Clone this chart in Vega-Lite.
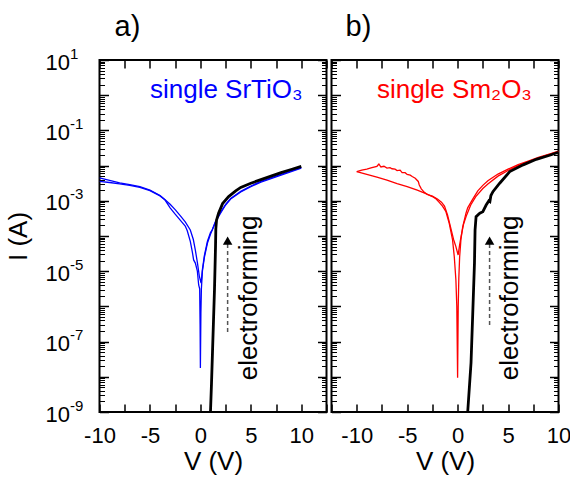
{
  "$schema": "https://vega.github.io/schema/vega-lite/v6.json",
  "background": "white",
  "padding": {"left": 3.5, "top": 12, "right": 4, "bottom": 2},
  "spacing": 1,
  "config": {
    "font": "Liberation Sans",
    "view": {"stroke": "black", "strokeWidth": 2},
    "axis": {
      "grid": false,
      "domain": false,
      "labelFont": "Liberation Sans",
      "labelFontSize": 22,
      "labelColor": "black",
      "titleFont": "Liberation Sans",
      "titleFontSize": 26,
      "titleFontWeight": "normal",
      "titleColor": "black",
      "tickColor": "black",
      "tickWidth": 1.5,
      "tickOpacity": 1,
      "labelOverlap": false,
      "labelFlush": false,
      "labelBound": false,
      "minExtent": 0,
      "zindex": 1
    },
    "title": {"font": "Liberation Sans", "fontSize": 29, "fontWeight": "normal", "color": "black", "anchor": "start", "frame": "group"}
  },
  "datasets": {
    "iv": [
      {"p":"a","s":"A","i":0,"V":-10,"I":3.55e-3},
      {"p":"a","s":"A","i":1,"V":-9,"I":3.31e-3},
      {"p":"a","s":"A","i":2,"V":-8,"I":3.02e-3},
      {"p":"a","s":"A","i":3,"V":-7,"I":2.75e-3},
      {"p":"a","s":"A","i":4,"V":-6,"I":2.40e-3},
      {"p":"a","s":"A","i":5,"V":-5,"I":1.95e-3},
      {"p":"a","s":"A","i":6,"V":-4,"I":1.38e-3},
      {"p":"a","s":"A","i":7,"V":-3.5,"I":1.05e-3},
      {"p":"a","s":"A","i":8,"V":-3,"I":6.31e-4},
      {"p":"a","s":"A","i":9,"V":-2.5,"I":4.17e-4},
      {"p":"a","s":"A","i":10,"V":-2,"I":2.82e-4},
      {"p":"a","s":"A","i":11,"V":-1.5,"I":1.91e-4},
      {"p":"a","s":"A","i":12,"V":-1.3,"I":1.41e-4},
      {"p":"a","s":"A","i":13,"V":-1,"I":7.08e-5},
      {"p":"a","s":"A","i":14,"V":-0.8,"I":3.55e-5},
      {"p":"a","s":"A","i":15,"V":-0.67,"I":2.09e-5},
      {"p":"a","s":"A","i":16,"V":-0.5,"I":1.70e-5},
      {"p":"a","s":"A","i":17,"V":-0.3,"I":1.0e-5},
      {"p":"a","s":"A","i":18,"V":-0.17,"I":4.07e-6},
      {"p":"a","s":"A","i":19,"V":-0.07,"I":3.16e-6},
      {"p":"a","s":"A","i":20,"V":-0.03,"I":3.16e-7},
      {"p":"a","s":"A","i":21,"V":0,"I":1.78e-8},
      {"p":"a","s":"A","i":22,"V":0.05,"I":6.31e-7},
      {"p":"a","s":"A","i":23,"V":0.1,"I":3.16e-6},
      {"p":"a","s":"A","i":24,"V":0.2,"I":1.0e-5},
      {"p":"a","s":"A","i":25,"V":0.4,"I":2.51e-5},
      {"p":"a","s":"A","i":26,"V":0.7,"I":6.31e-5},
      {"p":"a","s":"A","i":27,"V":1.0,"I":1.12e-4},
      {"p":"a","s":"A","i":28,"V":1.5,"I":2.51e-4},
      {"p":"a","s":"A","i":29,"V":2,"I":4.47e-4},
      {"p":"a","s":"A","i":30,"V":2.5,"I":7.59e-4},
      {"p":"a","s":"A","i":31,"V":3,"I":1.12e-3},
      {"p":"a","s":"A","i":32,"V":4,"I":1.78e-3},
      {"p":"a","s":"A","i":33,"V":5,"I":2.51e-3},
      {"p":"a","s":"A","i":34,"V":6,"I":3.39e-3},
      {"p":"a","s":"A","i":35,"V":7,"I":4.27e-3},
      {"p":"a","s":"A","i":36,"V":8,"I":5.37e-3},
      {"p":"a","s":"A","i":37,"V":9,"I":6.76e-3},
      {"p":"a","s":"A","i":38,"V":10,"I":8.51e-3},

      {"p":"a","s":"B","i":0,"V":-10,"I":4.47e-3},
      {"p":"a","s":"B","i":1,"V":-9,"I":3.80e-3},
      {"p":"a","s":"B","i":2,"V":-8,"I":3.24e-3},
      {"p":"a","s":"B","i":3,"V":-7,"I":2.88e-3},
      {"p":"a","s":"B","i":4,"V":-6,"I":2.51e-3},
      {"p":"a","s":"B","i":5,"V":-5,"I":2.0e-3},
      {"p":"a","s":"B","i":6,"V":-4,"I":1.41e-3},
      {"p":"a","s":"B","i":7,"V":-3.5,"I":1.07e-3},
      {"p":"a","s":"B","i":8,"V":-3,"I":7.94e-4},
      {"p":"a","s":"B","i":9,"V":-2.5,"I":5.62e-4},
      {"p":"a","s":"B","i":10,"V":-2,"I":3.80e-4},
      {"p":"a","s":"B","i":11,"V":-1.5,"I":2.51e-4},
      {"p":"a","s":"B","i":12,"V":-1,"I":1.48e-4},
      {"p":"a","s":"B","i":13,"V":-0.7,"I":7.94e-5},
      {"p":"a","s":"B","i":14,"V":-0.5,"I":3.98e-5},
      {"p":"a","s":"B","i":15,"V":-0.3,"I":1.78e-5},
      {"p":"a","s":"B","i":16,"V":-0.1,"I":7.08e-6},
      {"p":"a","s":"B","i":17,"V":0.07,"I":4.57e-6},
      {"p":"a","s":"B","i":18,"V":0.2,"I":1.12e-5},
      {"p":"a","s":"B","i":19,"V":0.4,"I":2.82e-5},
      {"p":"a","s":"B","i":20,"V":0.7,"I":7.08e-5},
      {"p":"a","s":"B","i":21,"V":1.0,"I":1.26e-4},
      {"p":"a","s":"B","i":22,"V":1.17,"I":1.48e-4},
      {"p":"a","s":"B","i":23,"V":1.5,"I":2.63e-4},
      {"p":"a","s":"B","i":24,"V":2,"I":4.79e-4},
      {"p":"a","s":"B","i":25,"V":2.5,"I":7.94e-4},
      {"p":"a","s":"B","i":26,"V":3,"I":1.17e-3},
      {"p":"a","s":"B","i":27,"V":4,"I":1.86e-3},
      {"p":"a","s":"B","i":28,"V":5,"I":2.63e-3},
      {"p":"a","s":"B","i":29,"V":6,"I":3.55e-3},
      {"p":"a","s":"B","i":30,"V":7,"I":4.47e-3},
      {"p":"a","s":"B","i":31,"V":8,"I":5.62e-3},
      {"p":"a","s":"B","i":32,"V":9,"I":7.08e-3},
      {"p":"a","s":"B","i":33,"V":10,"I":8.91e-3},

      {"p":"a","s":"F","i":0,"V":1.0,"I":1e-9},
      {"p":"a","s":"F","i":1,"V":1.1,"I":6.31e-9},
      {"p":"a","s":"F","i":2,"V":1.2,"I":5.01e-8},
      {"p":"a","s":"F","i":3,"V":1.3,"I":3.98e-7},
      {"p":"a","s":"F","i":4,"V":1.4,"I":3.16e-6},
      {"p":"a","s":"F","i":5,"V":1.45,"I":1.26e-5},
      {"p":"a","s":"F","i":6,"V":1.5,"I":5.01e-5},
      {"p":"a","s":"F","i":7,"V":1.53,"I":1.58e-4},
      {"p":"a","s":"F","i":8,"V":1.6,"I":2.82e-4},
      {"p":"a","s":"F","i":9,"V":1.8,"I":4.47e-4},
      {"p":"a","s":"F","i":10,"V":2.2,"I":8.32e-4},
      {"p":"a","s":"F","i":11,"V":2.8,"I":1.32e-3},
      {"p":"a","s":"F","i":12,"V":3.5,"I":1.91e-3},
      {"p":"a","s":"F","i":13,"V":4,"I":2.40e-3},
      {"p":"a","s":"F","i":14,"V":5,"I":3.16e-3},
      {"p":"a","s":"F","i":15,"V":6,"I":3.98e-3},
      {"p":"a","s":"F","i":16,"V":7,"I":5.01e-3},
      {"p":"a","s":"F","i":17,"V":8,"I":6.31e-3},
      {"p":"a","s":"F","i":18,"V":9,"I":7.76e-3},
      {"p":"a","s":"F","i":19,"V":10,"I":9.55e-3},

      {"p":"b","s":"A","i":0,"V":-10,"I":6.76e-3},
      {"p":"b","s":"A","i":1,"V":-9,"I":5.62e-3},
      {"p":"b","s":"A","i":2,"V":-8,"I":4.68e-3},
      {"p":"b","s":"A","i":3,"V":-7,"I":3.89e-3},
      {"p":"b","s":"A","i":4,"V":-6,"I":3.09e-3},
      {"p":"b","s":"A","i":5,"V":-5,"I":2.51e-3},
      {"p":"b","s":"A","i":6,"V":-4,"I":2.0e-3},
      {"p":"b","s":"A","i":7,"V":-3.2,"I":1.62e-3},
      {"p":"b","s":"A","i":8,"V":-2.5,"I":1.32e-3},
      {"p":"b","s":"A","i":9,"V":-2.2,"I":1.17e-3},
      {"p":"b","s":"A","i":10,"V":-1.8,"I":8.91e-4},
      {"p":"b","s":"A","i":11,"V":-1.5,"I":7.08e-4},
      {"p":"b","s":"A","i":12,"V":-1.17,"I":5.01e-4},
      {"p":"b","s":"A","i":13,"V":-0.83,"I":2.29e-4},
      {"p":"b","s":"A","i":14,"V":-0.5,"I":7.76e-5},
      {"p":"b","s":"A","i":15,"V":-0.33,"I":2.57e-5},
      {"p":"b","s":"A","i":16,"V":-0.17,"I":5.62e-6},
      {"p":"b","s":"A","i":17,"V":-0.08,"I":1.0e-6},
      {"p":"b","s":"A","i":18,"V":0,"I":9.33e-9},
      {"p":"b","s":"A","i":19,"V":0.06,"I":1.0e-6},
      {"p":"b","s":"A","i":20,"V":0.12,"I":6.31e-6},
      {"p":"b","s":"A","i":21,"V":0.2,"I":2.51e-5},
      {"p":"b","s":"A","i":22,"V":0.33,"I":7.94e-5},
      {"p":"b","s":"A","i":23,"V":0.5,"I":1.78e-4},
      {"p":"b","s":"A","i":24,"V":0.83,"I":4.47e-4},
      {"p":"b","s":"A","i":25,"V":1.0,"I":6.31e-4},
      {"p":"b","s":"A","i":26,"V":1.5,"I":1.12e-3},
      {"p":"b","s":"A","i":27,"V":2.0,"I":1.91e-3},
      {"p":"b","s":"A","i":28,"V":2.5,"I":2.75e-3},
      {"p":"b","s":"A","i":29,"V":3,"I":3.72e-3},
      {"p":"b","s":"A","i":30,"V":4,"I":5.75e-3},
      {"p":"b","s":"A","i":31,"V":5,"I":7.94e-3},
      {"p":"b","s":"A","i":32,"V":6,"I":1.07e-2},
      {"p":"b","s":"A","i":33,"V":7,"I":1.35e-2},
      {"p":"b","s":"A","i":34,"V":8,"I":1.70e-2},
      {"p":"b","s":"A","i":35,"V":9,"I":2.09e-2},
      {"p":"b","s":"A","i":36,"V":10,"I":2.57e-2},

      {"p":"b","s":"B","i":0,"V":-10,"I":6.76e-3},
      {"p":"b","s":"B","i":1,"V":-9.5,"I":7.41e-3},
      {"p":"b","s":"B","i":2,"V":-9,"I":7.94e-3},
      {"p":"b","s":"B","i":3,"V":-8.5,"I":8.71e-3},
      {"p":"b","s":"B","i":4,"V":-8,"I":9.55e-3},
      {"p":"b","s":"B","i":5,"V":-7.8,"I":1.10e-2},
      {"p":"b","s":"B","i":6,"V":-7.6,"I":9.12e-3},
      {"p":"b","s":"B","i":7,"V":-7.3,"I":9.55e-3},
      {"p":"b","s":"B","i":8,"V":-7.0,"I":8.51e-3},
      {"p":"b","s":"B","i":9,"V":-6.7,"I":8.71e-3},
      {"p":"b","s":"B","i":10,"V":-6.5,"I":8.13e-3},
      {"p":"b","s":"B","i":11,"V":-6.2,"I":7.94e-3},
      {"p":"b","s":"B","i":12,"V":-6.0,"I":7.24e-3},
      {"p":"b","s":"B","i":13,"V":-5.7,"I":7.41e-3},
      {"p":"b","s":"B","i":14,"V":-5.5,"I":6.31e-3},
      {"p":"b","s":"B","i":15,"V":-5.2,"I":6.31e-3},
      {"p":"b","s":"B","i":16,"V":-5,"I":5.62e-3},
      {"p":"b","s":"B","i":17,"V":-4.7,"I":5.37e-3},
      {"p":"b","s":"B","i":18,"V":-4.5,"I":4.90e-3},
      {"p":"b","s":"B","i":19,"V":-4.2,"I":4.37e-3},
      {"p":"b","s":"B","i":20,"V":-3.9,"I":3.55e-3},
      {"p":"b","s":"B","i":21,"V":-3.8,"I":2.82e-3},
      {"p":"b","s":"B","i":22,"V":-3.6,"I":2.19e-3},
      {"p":"b","s":"B","i":23,"V":-3.3,"I":1.74e-3},
      {"p":"b","s":"B","i":24,"V":-3.0,"I":1.51e-3},
      {"p":"b","s":"B","i":25,"V":-2.5,"I":1.35e-3},
      {"p":"b","s":"B","i":26,"V":-2.0,"I":1.12e-3},
      {"p":"b","s":"B","i":27,"V":-1.6,"I":9.12e-4},
      {"p":"b","s":"B","i":28,"V":-1.3,"I":7.08e-4},
      {"p":"b","s":"B","i":29,"V":-1.0,"I":3.98e-4},
      {"p":"b","s":"B","i":30,"V":-0.7,"I":1.78e-4},
      {"p":"b","s":"B","i":31,"V":-0.4,"I":7.94e-5},
      {"p":"b","s":"B","i":32,"V":-0.17,"I":5.01e-5},
      {"p":"b","s":"B","i":33,"V":0.05,"I":2.88e-5},
      {"p":"b","s":"B","i":34,"V":0.2,"I":5.62e-5},
      {"p":"b","s":"B","i":35,"V":0.35,"I":1.0e-4},
      {"p":"b","s":"B","i":36,"V":0.6,"I":2.24e-4},
      {"p":"b","s":"B","i":37,"V":0.9,"I":3.98e-4},
      {"p":"b","s":"B","i":38,"V":1.3,"I":7.59e-4},
      {"p":"b","s":"B","i":39,"V":1.8,"I":1.32e-3},
      {"p":"b","s":"B","i":40,"V":2.5,"I":2.24e-3},
      {"p":"b","s":"B","i":41,"V":3,"I":3.02e-3},
      {"p":"b","s":"B","i":42,"V":4,"I":5.01e-3},
      {"p":"b","s":"B","i":43,"V":5,"I":7.24e-3},
      {"p":"b","s":"B","i":44,"V":6,"I":1.0e-2},
      {"p":"b","s":"B","i":45,"V":7,"I":1.29e-2},
      {"p":"b","s":"B","i":46,"V":8,"I":1.62e-2},
      {"p":"b","s":"B","i":47,"V":9,"I":2.04e-2},
      {"p":"b","s":"B","i":48,"V":10,"I":2.51e-2},

      {"p":"b","s":"F","i":0,"V":1.0,"I":1e-9},
      {"p":"b","s":"F","i":1,"V":1.33,"I":2.51e-8},
      {"p":"b","s":"F","i":2,"V":1.5,"I":6.31e-7},
      {"p":"b","s":"F","i":3,"V":1.67,"I":1.66e-5},
      {"p":"b","s":"F","i":4,"V":1.73,"I":1.48e-4},
      {"p":"b","s":"F","i":5,"V":1.83,"I":3.55e-4},
      {"p":"b","s":"F","i":6,"V":2.2,"I":4.47e-4},
      {"p":"b","s":"F","i":7,"V":2.5,"I":4.90e-4},
      {"p":"b","s":"F","i":8,"V":2.83,"I":7.59e-4},
      {"p":"b","s":"F","i":9,"V":3.1,"I":1.0e-3},
      {"p":"b","s":"F","i":10,"V":3.2,"I":9.55e-4},
      {"p":"b","s":"F","i":11,"V":3.3,"I":1.41e-3},
      {"p":"b","s":"F","i":12,"V":3.5,"I":1.82e-3},
      {"p":"b","s":"F","i":13,"V":4.17,"I":3.16e-3},
      {"p":"b","s":"F","i":14,"V":5.17,"I":6.76e-3},
      {"p":"b","s":"F","i":15,"V":6.5,"I":1.05e-2},
      {"p":"b","s":"F","i":16,"V":7.8,"I":1.51e-2},
      {"p":"b","s":"F","i":17,"V":9.2,"I":2.0e-2},
      {"p":"b","s":"F","i":18,"V":10,"I":2.40e-2}
    ]
  },
  "data": {"name": "iv"},
  "hconcat": [
    {
      "width": 227,
      "height": 352,
      "title": {"text": "a)", "dx": 15, "offset": 4},
      "layer": [
        {
          "transform": [{"filter": "datum.p == 'a' && datum.s != 'F'"}],
          "mark": {"type": "line", "color": "#0000ff", "strokeWidth": 1.3, "clip": true},
          "encoding": {
            "x": {
              "field": "V", "type": "quantitative",
              "scale": {"domain": [-10, 12.5], "nice": false, "zero": false},
              "axis": {"orient": "bottom", "values": [-10, -7.5, -5, -2.5, 0, 2.5, 5, 7.5, 10, 12.5], "tickSize": -8, "labelPadding": 21, "labelExpr": "datum.value % 5 == 0 ? '' + datum.value : ''", "title": "V (V)", "titlePadding": 2}
            },
            "y": {
              "field": "I", "type": "quantitative",
              "scale": {"type": "log", "domain": [1e-9, 10], "nice": false},
              "axis": {
                "orient": "left",
                "values": [1e-9, 1e-8, 1e-7, 1e-6, 1e-5, 1e-4, 1e-3, 1e-2, 0.1, 1, 10],
                "tickSize": -9,
                "labelPadding": 39,
                "labelOffset": 2,
                "labelExpr": "round(log(datum.value)/LN10) % 2 != 0 ? '10' : ''",
                "title": "I (A)",
                "titlePadding": 14
              }
            },
            "detail": {"field": "s"},
            "order": {"field": "i"}
          }
        },
        {
          "transform": [{"filter": "datum.p == 'a' && datum.s == 'F'"}],
          "mark": {"type": "line", "color": "black", "strokeWidth": 2.8, "clip": true},
          "encoding": {
            "x": {
              "field": "V", "type": "quantitative",
              "axis": {"orient": "top", "values": [-10, -7.5, -5, -2.5, 0, 2.5, 5, 7.5, 10, 12.5], "tickSize": -8, "labels": false, "title": null, "maxExtent": 0}
            },
            "y": {
              "field": "I", "type": "quantitative",
              "axis": {"orient": "right", "values": [1e-9, 1e-8, 1e-7, 1e-6, 1e-5, 1e-4, 1e-3, 1e-2, 0.1, 1, 10], "tickSize": -9, "labels": false, "title": null, "maxExtent": 0}
            },
            "order": {"field": "i"}
          }
        },
        {
          "data": {"values": [{}]},
          "mark": {"type": "rule", "color": "#555555", "strokeWidth": 1.5, "strokeDash": [4, 3]},
          "encoding": {
            "x": {"datum": 2.7, "type": "quantitative", "axis": null},
            "y": {
              "datum": 1.86e-7, "type": "quantitative",
              "axis": {
                "orient": "left",
                "values": [2e-9,3e-9,4e-9,5e-9,6e-9,7e-9,8e-9,9e-9,2e-8,3e-8,4e-8,5e-8,6e-8,7e-8,8e-8,9e-8,2e-7,3e-7,4e-7,5e-7,6e-7,7e-7,8e-7,9e-7,2e-6,3e-6,4e-6,5e-6,6e-6,7e-6,8e-6,9e-6,2e-5,3e-5,4e-5,5e-5,6e-5,7e-5,8e-5,9e-5,2e-4,3e-4,4e-4,5e-4,6e-4,7e-4,8e-4,9e-4,2e-3,3e-3,4e-3,5e-3,6e-3,7e-3,8e-3,9e-3,2e-2,3e-2,4e-2,5e-2,6e-2,7e-2,8e-2,9e-2,0.2,0.3,0.4,0.5,0.6,0.7,0.8,0.9,2,3,4,5,6,7,8,9],
                "tickSize": -5, "tickWidth": 1, "labels": false, "title": null, "maxExtent": 0
              }
            },
            "y2": {"datum": 6.0e-5}
          }
        },
        {
          "data": {"values": [{}]},
          "mark": {"type": "point", "shape": "triangle-up", "filled": true, "fill": "black", "opacity": 1, "size": 90},
          "encoding": {
            "x": {"datum": 2.7, "type": "quantitative", "axis": null},
            "y": {
              "datum": 7.4e-5, "type": "quantitative",
              "axis": {
                "orient": "right",
                "values": [2e-9,3e-9,4e-9,5e-9,6e-9,7e-9,8e-9,9e-9,2e-8,3e-8,4e-8,5e-8,6e-8,7e-8,8e-8,9e-8,2e-7,3e-7,4e-7,5e-7,6e-7,7e-7,8e-7,9e-7,2e-6,3e-6,4e-6,5e-6,6e-6,7e-6,8e-6,9e-6,2e-5,3e-5,4e-5,5e-5,6e-5,7e-5,8e-5,9e-5,2e-4,3e-4,4e-4,5e-4,6e-4,7e-4,8e-4,9e-4,2e-3,3e-3,4e-3,5e-3,6e-3,7e-3,8e-3,9e-3,2e-2,3e-2,4e-2,5e-2,6e-2,7e-2,8e-2,9e-2,0.2,0.3,0.4,0.5,0.6,0.7,0.8,0.9,2,3,4,5,6,7,8,9],
                "tickSize": -5, "tickWidth": 1, "labels": false, "title": null, "maxExtent": 0
              }
            }
          }
        },
        {
          "data": {"values": [{}]},
          "mark": {"type": "text", "angle": 270, "align": "center", "baseline": "middle", "fontSize": 26, "font": "Liberation Sans", "fill": "black"},
          "encoding": {
            "x": {"datum": 4.85, "type": "quantitative", "axis": null},
            "y": {
              "datum": 1.74e-6, "type": "quantitative",
              "axis": {
                "orient": "left",
                "values": [10, 0.1, 1e-3, 1e-5, 1e-7, 1e-9],
                "ticks": false,
                "labelAlign": "left",
                "labelPadding": 30,
                "labelOffset": -7,
                "labelFontSize": 15,
                "labelExpr": "'' + round(log(datum.value)/LN10)",
                "title": null
              }
            },
            "text": {"value": "electroforming"}
          }
        },
        {
          "data": {"values": [{}]},
          "mark": {"type": "text", "align": "left", "baseline": "alphabetic", "fontSize": 26, "font": "Liberation Sans", "fill": "#0000ff"},
          "encoding": {
            "x": {"datum": -5, "type": "quantitative", "axis": null},
            "y": {"datum": 0.83, "type": "quantitative", "axis": null},
            "text": {"value": "single SrTiO₃"}
          }
        }
      ],
      "resolve": {"axis": {"x": "independent", "y": "independent"}}
    },
    {
      "width": 227,
      "height": 352,
      "title": {"text": "b)", "dx": 14, "offset": 17},
      "layer": [
        {
          "transform": [{"filter": "datum.p == 'b' && datum.s != 'F'"}],
          "mark": {"type": "line", "color": "#ff0000", "strokeWidth": 1.3, "clip": true},
          "encoding": {
            "x": {
              "field": "V", "type": "quantitative",
              "scale": {"domain": [-12.5, 10], "nice": false, "zero": false},
              "axis": {"orient": "bottom", "values": [-12.5, -10, -7.5, -5, -2.5, 0, 2.5, 5, 7.5, 10], "tickSize": -8, "labelPadding": 21, "labelExpr": "datum.value % 5 == 0 ? '' + datum.value : ''", "title": "V (V)", "titlePadding": 2}
            },
            "y": {
              "field": "I", "type": "quantitative",
              "scale": {"type": "log", "domain": [1e-9, 10], "nice": false},
              "axis": {"orient": "left", "values": [1e-9, 1e-8, 1e-7, 1e-6, 1e-5, 1e-4, 1e-3, 1e-2, 0.1, 1, 10], "tickSize": -9, "labels": false, "title": null, "maxExtent": 0}
            },
            "detail": {"field": "s"},
            "order": {"field": "i"}
          }
        },
        {
          "transform": [{"filter": "datum.p == 'b' && datum.s == 'F'"}],
          "mark": {"type": "line", "color": "black", "strokeWidth": 2.8, "clip": true},
          "encoding": {
            "x": {
              "field": "V", "type": "quantitative",
              "axis": {"orient": "top", "values": [-12.5, -10, -7.5, -5, -2.5, 0, 2.5, 5, 7.5, 10], "tickSize": -8, "labels": false, "title": null, "maxExtent": 0}
            },
            "y": {
              "field": "I", "type": "quantitative",
              "axis": {"orient": "right", "values": [1e-9, 1e-8, 1e-7, 1e-6, 1e-5, 1e-4, 1e-3, 1e-2, 0.1, 1, 10], "tickSize": -9, "labels": false, "title": null, "maxExtent": 0}
            },
            "order": {"field": "i"}
          }
        },
        {
          "data": {"values": [{}]},
          "mark": {"type": "rule", "color": "#555555", "strokeWidth": 1.5, "strokeDash": [4, 3]},
          "encoding": {
            "x": {"datum": 3.17, "type": "quantitative", "axis": null},
            "y": {
              "datum": 2.95e-7, "type": "quantitative",
              "axis": {
                "orient": "left",
                "values": [2e-9,3e-9,4e-9,5e-9,6e-9,7e-9,8e-9,9e-9,2e-8,3e-8,4e-8,5e-8,6e-8,7e-8,8e-8,9e-8,2e-7,3e-7,4e-7,5e-7,6e-7,7e-7,8e-7,9e-7,2e-6,3e-6,4e-6,5e-6,6e-6,7e-6,8e-6,9e-6,2e-5,3e-5,4e-5,5e-5,6e-5,7e-5,8e-5,9e-5,2e-4,3e-4,4e-4,5e-4,6e-4,7e-4,8e-4,9e-4,2e-3,3e-3,4e-3,5e-3,6e-3,7e-3,8e-3,9e-3,2e-2,3e-2,4e-2,5e-2,6e-2,7e-2,8e-2,9e-2,0.2,0.3,0.4,0.5,0.6,0.7,0.8,0.9,2,3,4,5,6,7,8,9],
                "tickSize": -5, "tickWidth": 1, "labels": false, "title": null, "maxExtent": 0
              }
            },
            "y2": {"datum": 6.0e-5}
          }
        },
        {
          "data": {"values": [{}]},
          "mark": {"type": "point", "shape": "triangle-up", "filled": true, "fill": "black", "opacity": 1, "size": 90},
          "encoding": {
            "x": {"datum": 3.17, "type": "quantitative", "axis": null},
            "y": {
              "datum": 7.4e-5, "type": "quantitative",
              "axis": {
                "orient": "right",
                "values": [2e-9,3e-9,4e-9,5e-9,6e-9,7e-9,8e-9,9e-9,2e-8,3e-8,4e-8,5e-8,6e-8,7e-8,8e-8,9e-8,2e-7,3e-7,4e-7,5e-7,6e-7,7e-7,8e-7,9e-7,2e-6,3e-6,4e-6,5e-6,6e-6,7e-6,8e-6,9e-6,2e-5,3e-5,4e-5,5e-5,6e-5,7e-5,8e-5,9e-5,2e-4,3e-4,4e-4,5e-4,6e-4,7e-4,8e-4,9e-4,2e-3,3e-3,4e-3,5e-3,6e-3,7e-3,8e-3,9e-3,2e-2,3e-2,4e-2,5e-2,6e-2,7e-2,8e-2,9e-2,0.2,0.3,0.4,0.5,0.6,0.7,0.8,0.9,2,3,4,5,6,7,8,9],
                "tickSize": -5, "tickWidth": 1, "labels": false, "title": null, "maxExtent": 0
              }
            }
          }
        },
        {
          "data": {"values": [{}]},
          "mark": {"type": "text", "angle": 270, "align": "center", "baseline": "middle", "fontSize": 26, "font": "Liberation Sans", "fill": "black"},
          "encoding": {
            "x": {"datum": 5.17, "type": "quantitative", "axis": null},
            "y": {"datum": 1.74e-6, "type": "quantitative", "axis": null},
            "text": {"value": "electroforming"}
          }
        },
        {
          "data": {"values": [{}]},
          "mark": {"type": "text", "align": "left", "baseline": "alphabetic", "fontSize": 26, "font": "Liberation Sans", "fill": "#ff0000"},
          "encoding": {
            "x": {"datum": -8, "type": "quantitative", "axis": null},
            "y": {"datum": 0.83, "type": "quantitative", "axis": null},
            "text": {"value": "single Sm₂O₃"}
          }
        }
      ],
      "resolve": {"axis": {"x": "independent", "y": "independent"}}
    }
  ]
}
